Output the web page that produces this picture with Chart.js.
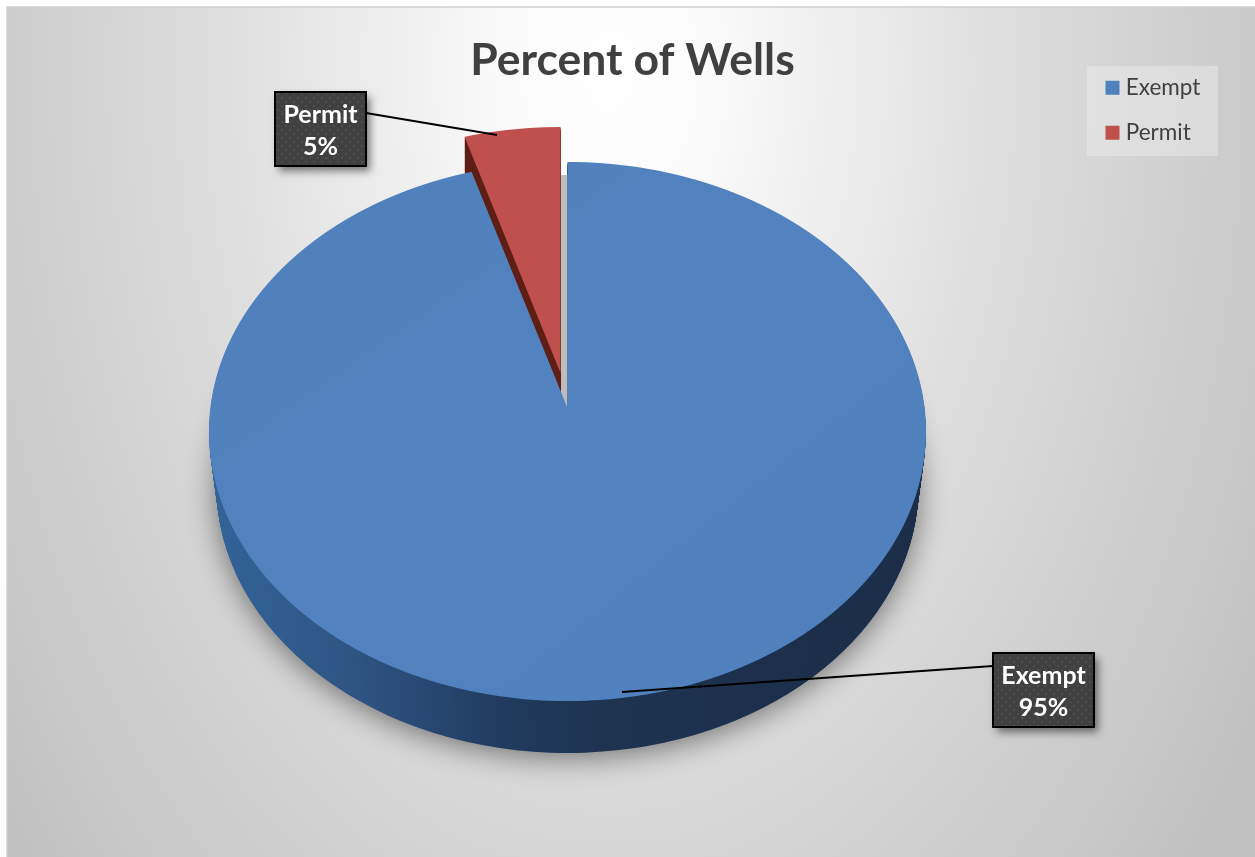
<!DOCTYPE html>
<html lang="en">
<head>
<meta charset="UTF-8">
<title>Percent of Wells</title>
<script src="https://cdn.jsdelivr.net/npm/chart.js"></script>
<style>
  html, body { margin: 0; padding: 0; background: #fff; }
  canvas { display: block; }
</style>
</head>
<body>
<canvas id="myChart" width="1255" height="857"></canvas>
<script>
const chartTitle = 'Percent of Wells';
const categories = ['Exempt', 'Permit'];
const wellValues = [95.3, 4.7];
const sliceColors = ['#4f81bd', '#c0504d'];

const FONT = 'Lato';

// perspective of the tilted disc, in page pixels
const tip = { x: 567.5, y: 408 };   // where the slices meet
const rx0 = 357.1, ry0 = 267.5, k = 0.0872;
const rimEllipse = { x: 567.5, y: 431.5, rx: 358.5, ry: 269.5 };
const depth = 52;
const explode = { x: -7, y: -35 };  // Permit slice is pulled out

const calloutBoxes = [
  { x: 993, y: 653, w: 101, h: 74, from: [622, 692], to: [993, 666] },
  { x: 275, y: 92, w: 91, h: 74, from: [497, 135], to: [366, 113] }
];

function withArc(arc, fill, fn) {
  const saved = arc.options;
  arc.options = Object.assign({}, saved, { backgroundColor: fill, borderWidth: 0 });
  fn();
  arc.options = saved;
}

// draws an arc in thin rows so the circle gets the real perspective
function drawWarped(ctx, arc, fill, dx, dy, y0, y1) {
  const R = arc.outerRadius;
  withArc(arc, fill, () => {
    for (let Y = y0; Y < y1; Y += 2) {
      const ym = Y + 1 - dy;
      const s = (tip.y - ym) / ry0;
      const w = 1 - k * s;
      const v = s / w;
      const a = rx0 * w / R;
      const d = ry0 * w * w / R;
      ctx.save();
      ctx.beginPath();
      ctx.rect(0, Y, 1255, 2);
      ctx.clip();
      ctx.transform(a, 0, 0, d, tip.x + dx - a * arc.x, ym + dy + ry0 * w * w * v - d * arc.y);
      arc.draw(ctx);
      ctx.restore();
    }
  });
}

function drawEllipseLayer(ctx, arc, fill, e) {
  const R = arc.outerRadius;
  const a = e.rx / R, d = e.ry / R;
  withArc(arc, fill, () => {
    ctx.save();
    ctx.transform(a, 0, 0, d, e.x - a * arc.x, e.y - d * arc.y);
    arc.draw(ctx);
    ctx.restore();
  });
}

const backdrop = {
  id: 'backdrop',
  beforeDraw(chart) {
    const ctx = chart.ctx;
    ctx.save();
    ctx.fillStyle = '#fff';
    ctx.fillRect(0, 0, 1255, 857);
    // the light falls off slower downwards than sideways
    ctx.save();
    ctx.beginPath();
    ctx.rect(7, 7, 1248, 850);
    ctx.clip();
    ctx.translate(610, 70);
    ctx.scale(1, 1.6);
    const g = ctx.createRadialGradient(0, 0, 0, 0, 0, 760);
    g.addColorStop(0, '#ffffff');
    g.addColorStop(0.12, '#fbfbfb');
    g.addColorStop(0.6, '#d8d8d8');
    g.addColorStop(0.8, '#cdcdcd');
    g.addColorStop(0.9, '#c7c7c7');
    g.addColorStop(1, '#c1c1c1');
    ctx.fillStyle = g;
    ctx.fillRect(-800, -100, 1600, 700);
    ctx.restore();
    ctx.strokeStyle = '#d0d0d0';
    ctx.lineWidth = 1.5;
    ctx.beginPath();
    ctx.moveTo(7, 857);
    ctx.lineTo(7, 7);
    ctx.lineTo(1255, 7);
    ctx.stroke();
    // legend panel
    ctx.fillStyle = 'rgba(255,255,255,0.28)';
    ctx.fillRect(1087, 66, 131, 90);
    ctx.restore();
  },
  afterLayout(chart) {
    const legend = chart.legend;
    legend.left = 1106 - 23 + 5;
    legend.right = 1240;
    legend.top = 54;
    legend.bottom = 300;
  }
};

const pie3d = {
  id: 'pie3d',
  beforeDatasetsDraw(chart) {
    const ctx = chart.ctx;
    const [blue, red] = chart.getDatasetMeta(0).data;
    const R = blue.outerRadius;

    const side = ctx.createLinearGradient(blue.x - R, 0, blue.x + R, 0);
    side.addColorStop(0, '#336398');
    side.addColorStop(0.2, '#2f5483');
    side.addColorStop(0.4, '#213c60');
    side.addColorStop(0.55, '#1d3350');
    side.addColorStop(1, '#1b2d49');

    for (let i = depth; i >= 1; i--) {
      const t = i / depth;
      if (i === depth) {
        ctx.save();
        ctx.shadowColor = 'rgba(0,0,0,0.5)';
        ctx.shadowBlur = 30;
        ctx.shadowOffsetY = 4;
      }
      drawEllipseLayer(ctx, blue, side, {
        x: rimEllipse.x,
        y: rimEllipse.y + 55 * t,
        rx: rimEllipse.rx - 7.5 * t,
        ry: rimEllipse.ry - 3 * t
      });
      if (i === depth) ctx.restore();
    }

    // cut face behind the pulled out slice
    drawWarped(ctx, red, '#bdbdbd', 0, 13, 150, 440);
    for (let i = 35; i >= 1; i--) {
      drawWarped(ctx, red, '#5e1f17', explode.x, explode.y + i, 120, 420);
    }
    drawWarped(ctx, red, sliceColors[1], explode.x, explode.y, 110, 400);

    const top = ctx.createLinearGradient(blue.x - R, blue.y - R, blue.x + R, blue.y + R);
    top.addColorStop(0, '#4f80bb');
    top.addColorStop(0.5, '#5283c0');
    top.addColorStop(1, '#4f80bc');
    drawWarped(ctx, blue, top, 0, 0, 150, 712);
    return false;
  },
  afterDraw(chart) {
    const ctx = chart.ctx;
    const total = wellValues.reduce((a, b) => a + b, 0);
    ctx.save();
    if (!this.dots) {
      const c = document.createElement('canvas');
      c.width = c.height = 8;
      const p = c.getContext('2d');
      p.fillStyle = '#404040';
      p.fillRect(0, 0, 8, 8);
      p.fillStyle = '#4e4e4e';
      p.fillRect(1, 1, 2, 2);
      p.fillRect(5, 5, 2, 2);
      this.dots = ctx.createPattern(c, 'repeat');
    }
    categories.forEach((name, i) => {
      const b = calloutBoxes[i];
      ctx.strokeStyle = '#000';
      ctx.lineWidth = 2;
      ctx.beginPath();
      ctx.moveTo(b.from[0], b.from[1]);
      ctx.lineTo(b.to[0], b.to[1]);
      ctx.stroke();

      ctx.save();
      ctx.shadowColor = 'rgba(0,0,0,0.5)';
      ctx.shadowBlur = 8;
      ctx.shadowOffsetX = 4;
      ctx.shadowOffsetY = 5;
      ctx.fillStyle = '#404040';
      ctx.fillRect(b.x, b.y, b.w, b.h);
      ctx.restore();

      ctx.fillStyle = this.dots;
      ctx.fillRect(b.x, b.y, b.w, b.h);
      ctx.strokeRect(b.x, b.y, b.w, b.h);

      ctx.fillStyle = '#fff';
      ctx.font = 'bold 25px ' + FONT;
      ctx.textAlign = 'center';
      ctx.textBaseline = 'middle';
      ctx.fillText(name, b.x + b.w / 2, b.y + 23);
      ctx.fillText(Math.round(wellValues[i] / total * 100) + '%', b.x + b.w / 2, b.y + 55);
    });
    ctx.restore();
  }
};

new Chart(document.getElementById('myChart'), {
  type: 'pie',
  data: {
    labels: categories,
    datasets: [{
      data: wellValues,
      backgroundColor: sliceColors,
      borderWidth: 0
    }]
  },
  plugins: [backdrop, pie3d],
  options: {
    responsive: false,
    animation: false,
    events: [],
    layout: { padding: { left: 10 } },
    plugins: {
      tooltip: { enabled: false },
      title: {
        display: true,
        text: chartTitle,
        color: '#404040',
        font: { family: FONT, size: 44.5, weight: 'bold' },
        padding: { top: 34, bottom: 6 }
      },
      legend: {
        position: 'right',
        align: 'start',
        labels: {
          color: '#404040',
          font: { family: FONT, size: 22.5 },
          padding: 22.5,
          boxWidth: 4,
          boxHeight: 4,
          generateLabels: () => categories.map((name, i) => ({
            text: name,
            fillStyle: sliceColors[i],
            strokeStyle: sliceColors[i],
            lineWidth: 10,
            fontColor: '#404040',
            index: i
          }))
        }
      }
    }
  }
});
</script>
</body>
</html>
